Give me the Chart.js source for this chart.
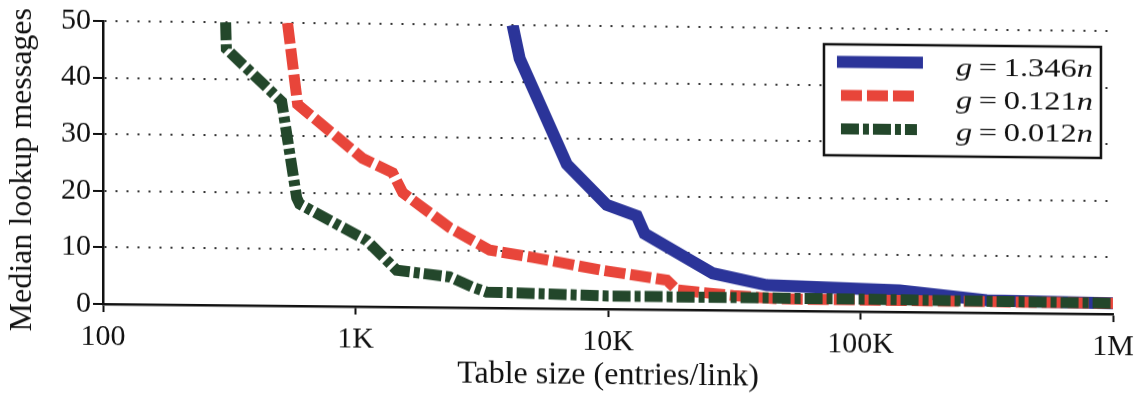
<!DOCTYPE html>
<html><head><meta charset="utf-8">
<script src="https://cdn.jsdelivr.net/npm/chart.js@4.4.1/dist/chart.umd.min.js"></script>
<style>
html,body{margin:0;padding:0;background:#fff;overflow:hidden}
#wrap{width:1141px;height:396px;transform:skewY(0.57deg);transform-origin:0 0}
</style></head><body>
<div id="wrap"><canvas id="c" width="1141" height="396"></canvas></div>
<script>
// ---- data ----
const tableSizeTicks = [100, 1000, 10000, 100000, 1000000];
const tableSizeTickLabels = ['100', '1K', '10K', '100K', '1M'];
const yTicks = [0, 10, 20, 30, 40, 50];
const seriesNames = ['g=1.346n', 'g=0.121n', 'g=0.012n'];
const seriesCoef = ['1.346', '0.121', '0.012'];

const blueX = [4190, 4470, 6870, 9890, 13000, 13960, 26000, 42600, 143000, 316000, 1000000];
const blueY = [50, 44.1, 25.5, 18.4, 16.5, 13.4, 6.5, 4.5, 3.8, 2.2, 1.9];

const redX = [538, 590, 1067, 1403, 1538, 2360, 3400, 5030, 9300, 17100, 18750, 31300, 48000, 1000000];
const redY = [50, 35.6, 26.2, 23.7, 20.2, 14.1, 10.2, 9.0, 6.9, 5.2, 3.5, 2.6, 2.1, 1.9];

const greenX = [306, 308, 510, 585, 601, 1107, 1455, 2360, 2920, 3300, 10000, 100000, 1000000];
const greenY = [50, 45.3, 36.1, 19.1, 18.0, 11.7, 6.5, 5.4, 3.6, 2.8, 2.3, 2.2, 1.9];

const pts = (xs, ys) => xs.map((x, i) => ({x: x, y: ys[i]}));
const SERIF = 'Liberation Serif';
const INK = '#111';

const boxLegend = {
  id: 'boxLegend',
  afterDraw(chart) {
    const ctx = chart.ctx, a = chart.chartArea;
    const L = a.right - 289, T = a.top + 16, W = 277, H = 111;
    ctx.save();
    ctx.fillStyle = '#fff';
    ctx.fillRect(L, T, W, H);
    ctx.lineWidth = 2.5;
    ctx.strokeStyle = INK;
    ctx.strokeRect(L, T, W, H);
    chart.data.datasets.forEach((ds, i) => {
      const y = T + 17.5 + i * 33.5;
      ctx.beginPath();
      ctx.setLineDash(ds.borderDash || []);
      ctx.lineDashOffset = 0;
      ctx.lineCap = 'butt';
      ctx.lineWidth = ds.borderWidth;
      ctx.strokeStyle = ds.borderColor;
      ctx.moveTo(L + (i === 0 ? 13 : 17), y);
      ctx.lineTo(L + (i === 0 ? 99 : 93), y);
      ctx.stroke();
      ctx.setLineDash([]);
      // text: italic g, =, coefficient, italic n
      const parts = [
        ['g', 'italic '], ['\u2009=\u2009', ''], [seriesCoef[i], ''], ['n', 'italic ']
      ];
      ctx.save();
      ctx.translate(L + 269, T + 30 + i * 32.6);
      ctx.scale(1.25, 1);
      ctx.fillStyle = INK;
      ctx.textBaseline = 'alphabetic';
      ctx.textAlign = 'left';
      let total = 0;
      const widths = parts.map(p => { ctx.font = p[1] + '26px "' + SERIF + '"'; const w = ctx.measureText(p[0]).width; total += w; return w; });
      let x = -total;
      parts.forEach((p, k) => { ctx.font = p[1] + '26px "' + SERIF + '"'; ctx.fillText(p[0], x, 0); x += widths[k]; });
      ctx.restore();
    });
    ctx.restore();
  }
};

new Chart(document.getElementById('c'), {
  type: 'line',
  data: {
    datasets: [
      { label: seriesNames[0], data: pts(blueX, blueY), borderColor: '#2b3499', borderWidth: 12,
        borderDash: [], order: 3 },
      { label: seriesNames[1], data: pts(redX, redY), borderColor: '#e8453a', borderWidth: 11,
        borderDash: [21, 5], order: 2 },
      { label: seriesNames[2], data: pts(greenX, greenY), borderColor: '#23472b', borderWidth: 11,
        borderDash: [18, 4, 6, 4], order: 1 }
    ].map(d => Object.assign(d, { pointRadius: 0, tension: 0, fill: false, borderCapStyle: 'butt', borderJoinStyle: 'miter' }))
  },
  options: {
    responsive: false,
    animation: false,
    devicePixelRatio: 1,
    layout: { padding: { left: 0, right: 28, top: 18, bottom: 0 } },
    plugins: { legend: { display: false }, tooltip: { enabled: false } },
    scales: {
      x: {
        type: 'logarithmic', min: 100, max: 1000000,
        afterBuildTicks: s => { s.ticks = tableSizeTicks.map(v => ({ value: v })); },
        afterFit: s => { s.height = 93; },
        ticks: {
          autoSkip: false, maxRotation: 0, padding: 7, color: INK,
          font: { family: SERIF, size: 30 },
          callback: v => tableSizeTickLabels[tableSizeTicks.indexOf(v)]
        },
        grid: { drawOnChartArea: false, drawTicks: true, tickLength: 8, tickWidth: 2, tickColor: INK, color: INK },
        border: { display: true, color: INK, width: 2.5 },
        title: { display: true, text: 'Table size (entries/link)', color: INK,
          font: { family: SERIF, size: 32 }, padding: { top: 0, bottom: 7 } }
      },
      y: {
        type: 'linear', min: 0, max: 50,
        afterBuildTicks: s => { s.ticks = yTicks.map(v => ({ value: v })); },
        afterFit: s => { s.width = 103; },
        ticks: { padding: 2, color: INK, font: { family: SERIF, size: 30 } },
        grid: { color: '#333', lineWidth: 2, drawTicks: true, tickLength: 10, tickWidth: 2, tickColor: INK },
        border: { display: true, color: INK, width: 2.5, dash: [2, 9] },
        title: { display: true, text: 'Median lookup messages\u00a0\u00a0', color: INK,
          font: { family: SERIF, size: 32 }, padding: { top: 3, bottom: 0 } }
      }
    }
  },
  plugins: [boxLegend]
});
</script>
</body></html>
